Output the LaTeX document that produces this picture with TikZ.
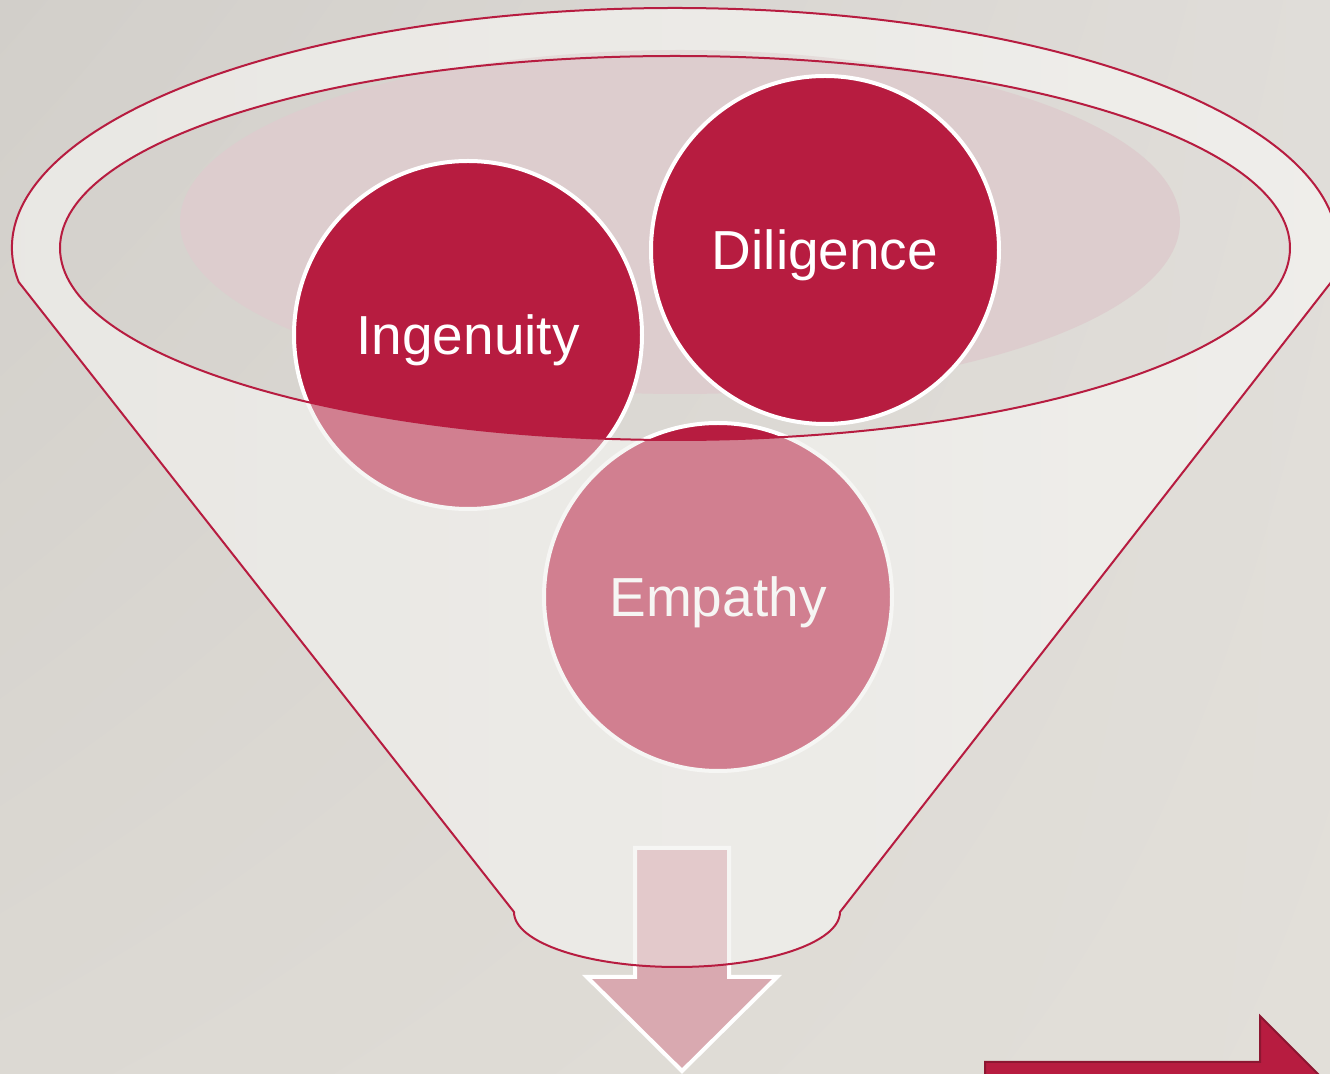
\documentclass[tikz,border=0pt]{standalone}
\usepackage{fontspec}
\setmainfont{Liberation Sans}
\usetikzlibrary{shadings}
\definecolor{crimson}{HTML}{B71C40}
\definecolor{crimsondark}{HTML}{8C1631}
\definecolor{rosepale}{HTML}{DDCDCE}
\definecolor{roseshaft}{HTML}{D9A9B0}
\definecolor{funnelwhite}{HTML}{EEEDE9}
\definecolor{bgul}{HTML}{D2CFCA}
\definecolor{bgur}{HTML}{E0DDD9}
\definecolor{bgll}{HTML}{DCD9D3}
\definecolor{bglr}{HTML}{E2DFD9}
\definecolor{bodyleft}{HTML}{E5E3DF}
\definecolor{bodyright}{HTML}{F0EFEC}
\newcommand{\funnelpath}{(18.7,282) arc[start angle=171.85, end angle=368.15, x radius=663, y radius=240]
  -- (840,912) arc[start angle=0, end angle=180, x radius=163, y radius=55] -- cycle
  (675,248) ellipse [x radius=615, y radius=192]}
\begin{document}
\begin{tikzpicture}[x=0.5pt,y=-0.5pt,
    ball/.style={circle, draw=white, line width=2pt, fill=crimson, minimum size=174pt,
      inner sep=0pt, text=white, text height=20pt, text depth=0pt,
      font=\fontsize{27.5}{33}\selectfont},
    funnelline/.style={draw=crimson, line width=1pt}]
  \clip (0,0) rectangle (1330,1074);
  \shade[upper left=bgul, upper right=bgur, lower left=bgll, lower right=bglr]
    (0,0) rectangle (1330,1074);
  \shade[left color=bodyleft, right color=bodyright, even odd rule] \funnelpath;
  \fill[rosepale] (680,222) ellipse [x radius=500, y radius=172];
  \node[ball] (ingenuity) at (468,335) {Ingenuity};
  \node[ball] (diligence) at (825,250) {Diligence};
  \node[ball] (empathy) at (718,597) {Empathy};
  \path[fill=roseshaft, draw=white, line width=2pt]
    (635,848) -- (729,848) -- (729,977) -- (777,977) -- (682,1071) -- (587,977) -- (635,977) -- cycle;
  \path[fill=funnelwhite, fill opacity=0.48, even odd rule] \funnelpath;
  \path[funnelline] \funnelpath;
  \path[fill=crimson, draw=crimsondark, line width=1pt]
    (985,1120) -- (985,1062) -- (1260,1062) -- (1260,1016) -- (1380,1136) -- cycle;
\end{tikzpicture}
\end{document}
